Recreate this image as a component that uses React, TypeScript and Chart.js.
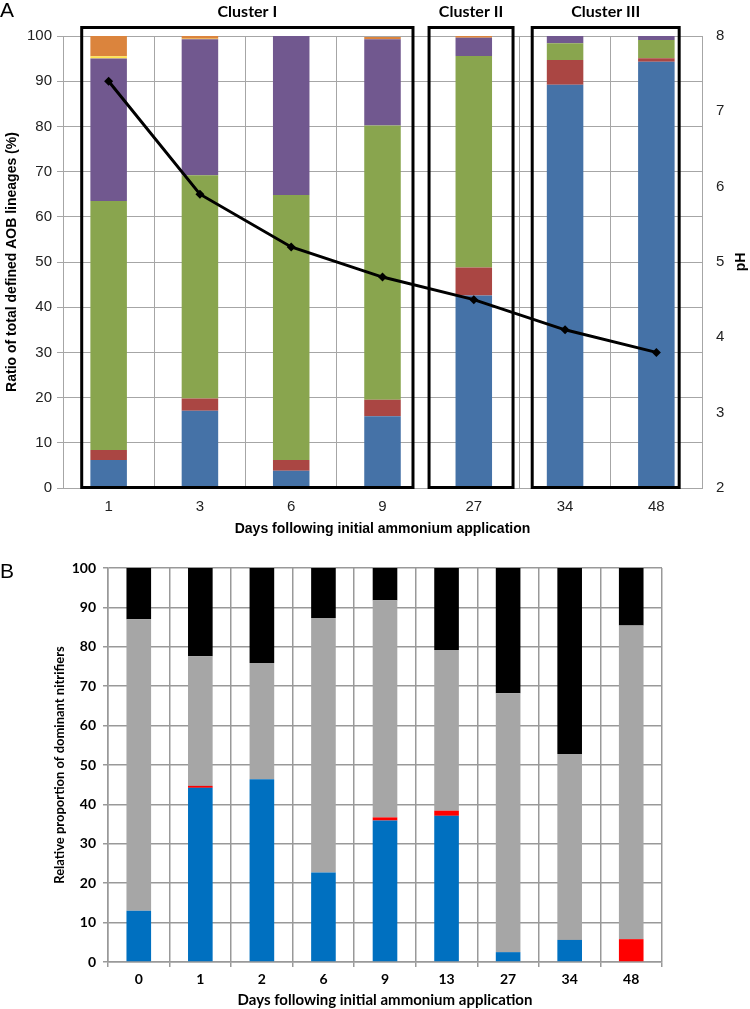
import React, { useEffect, useRef } from 'react';
import { Chart, registerables } from 'chart.js';

Chart.register(...registerables);

// ---------- Panel A data ----------
const daysA = ['1', '3', '6', '9', '27', '34', '48'];
const blueA = [6.2, 17.1, 3.8, 15.9, 42.6, 89.2, 94.3];
const redA = [2.2, 2.7, 2.4, 3.6, 6.2, 5.5, 0.8];
const greenA = [55.1, 49.4, 58.6, 60.7, 46.8, 3.7, 4.0];
const purpleA = [31.5, 30.1, 35.2, 19.1, 4.0, 1.6, 0.9];
const yellowA = [0.5, 0.1, 0, 0, 0, 0, 0];
const orangeA = [4.5, 0.6, 0, 0.5, 0.4, 0, 0];
const pHValues = [7.4, 5.9, 5.2, 4.8, 4.5, 4.1, 3.8];
const clusterNames = ['Cluster I', 'Cluster II', 'Cluster III'];
const clusterFrom = [0, 4, 5];
const clusterTo = [3, 4, 6];

// ---------- Panel B data ----------
const daysB = ['0', '1', '2', '6', '9', '13', '27', '34', '48'];
const blueB = [13.0, 44.2, 46.4, 22.7, 35.9, 37.1, 2.5, 5.6, 0];
const redB = [0, 0.5, 0, 0, 0.8, 1.3, 0, 0, 5.8];
const grayB = [74.0, 32.9, 29.5, 64.6, 55.1, 40.8, 65.7, 47.2, 79.6];
const blackB = [13.0, 22.4, 24.1, 12.7, 8.2, 20.8, 31.8, 47.2, 14.6];

// layout constants for cluster boxes (fractions of a category step)
const clusterPadL = [-0.295, -0.49, -0.36];
const clusterPadR = [0.334, 0.43, 0.25];

const ARIAL = '"Liberation Sans", Arial, sans-serif';
const LATO = 'Lato, "Open Sans", sans-serif';

const topDeco = {
  id: 'topDeco',
  afterDatasetsDraw(chart: any) {
    const ctx = chart.ctx;
    const x = chart.scales.x;
    const step = x.getPixelForValue(1) - x.getPixelForValue(0);
    const { top, bottom } = chart.chartArea;
    ctx.save();
    ctx.strokeStyle = '#000';
    ctx.lineWidth = 3;
    ctx.fillStyle = '#000';
    ctx.textAlign = 'center';
    ctx.textBaseline = 'middle';
    ctx.font = `bold 16px ${LATO}`;
    clusterNames.forEach((name, i) => {
      const l = x.getPixelForValue(clusterFrom[i]) + clusterPadL[i] * step;
      const r = x.getPixelForValue(clusterTo[i]) + clusterPadR[i] * step;
      ctx.strokeRect(l, top - 8.5, r - l, bottom - top + 8);
      ctx.fillText(name, (l + r) / 2, 12);
    });
    // panel letter
    ctx.textAlign = 'left';
    ctx.font = `21px ${ARIAL}`;
    ctx.fillText('A', 0, 11);
    // pH title (reads bottom to top)
    ctx.translate(741, (top + bottom) / 2);
    ctx.rotate(-Math.PI / 2);
    ctx.textAlign = 'center';
    ctx.font = `bold 14px ${ARIAL}`;
    ctx.fillText('pH', 0, 0);
    ctx.restore();
  },
};

const bottomDeco = {
  id: 'bottomDeco',
  afterDraw(chart: any) {
    const ctx = chart.ctx;
    ctx.save();
    ctx.fillStyle = '#000';
    ctx.textBaseline = 'middle';
    ctx.textAlign = 'left';
    ctx.font = `21px ${ARIAL}`;
    ctx.fillText('B', 0, 27);
    ctx.restore();
  },
};

function TopChart() {
  const ref = useRef<HTMLCanvasElement>(null);
  useEffect(() => {
    if (!ref.current) return;
    const barDs = (label: string, data: number[], color: string) => ({
      type: 'bar' as const,
      label,
      data,
      backgroundColor: color,
      borderWidth: 0,
      yAxisID: 'y',
      order: 2,
      barPercentage: 0.4,
      categoryPercentage: 1,
    });
    const chart = new Chart(ref.current, {
      type: 'bar',
      data: {
        labels: daysA,
        datasets: [
          barDs('blue', blueA, '#4572A7'),
          barDs('red', redA, '#AA4643'),
          barDs('green', greenA, '#89A54E'),
          barDs('purple', purpleA, '#71588F'),
          barDs('yellow', yellowA, '#FFE34D'),
          barDs('orange', orangeA, '#DB843D'),
          {
            type: 'line' as const,
            label: 'pH',
            data: pHValues,
            yAxisID: 'y1',
            borderColor: '#000',
            backgroundColor: '#000',
            borderWidth: 3,
            pointStyle: 'rectRot',
            pointRadius: 4.5,
            pointBorderWidth: 0,
            tension: 0,
            order: 0,
          } as any,
        ],
      },
      options: {
        responsive: false,
        animation: false,
        layout: { padding: { top: 36, left: 0, right: 0, bottom: 0 } },
        plugins: { legend: { display: false }, tooltip: { enabled: false } },
        scales: {
          x: {
            stacked: true,
            afterFit: (s: any) => { s.height = 57; },
            grid: { color: '#A6A6A6', lineWidth: 1, drawTicks: false, offset: true },
            border: { color: '#A6A6A6' },
            ticks: { color: '#222', font: { family: ARIAL, size: 15 }, padding: 10 },
            title: {
              display: true,
              text: 'Days following initial ammonium application',
              color: '#000',
              font: { family: ARIAL, size: 14, weight: 'bold' },
              padding: { top: 0, bottom: 7.5 },
            },
          },
          y: {
            stacked: true,
            min: 0,
            max: 100,
            position: 'left',
            afterFit: (s: any) => { s.width = 63; },
            grid: { color: '#A6A6A6', lineWidth: 1, tickLength: 6 },
            border: { color: '#A6A6A6' },
            ticks: { stepSize: 10, color: '#222', font: { family: ARIAL, size: 15 }, padding: 5 },
            title: {
              display: true,
              text: 'Ratio of total defined AOB lineages (%)',
              color: '#000',
              font: { family: ARIAL, size: 14, weight: 'bold' },
              padding: { top: 4, bottom: 0 },
            },
          },
          y1: {
            min: 2,
            max: 8,
            position: 'right',
            afterFit: (s: any) => { s.width = 48; },
            grid: { display: false, drawTicks: false, drawOnChartArea: false },
            border: { display: false },
            ticks: { stepSize: 1, color: '#222', font: { family: ARIAL, size: 15 }, padding: 14 },
          },
        },
      } as any,
      plugins: [topDeco],
    });
    return () => chart.destroy();
  }, []);
  return <canvas ref={ref} width={750} height={545} style={{ display: 'block' }} />;
}

function BottomChart() {
  const ref = useRef<HTMLCanvasElement>(null);
  useEffect(() => {
    if (!ref.current) return;
    const barDs = (label: string, data: number[], color: string) => ({
      label,
      data,
      backgroundColor: color,
      borderWidth: 0,
      barPercentage: 0.4,
      categoryPercentage: 1,
    });
    const chart = new Chart(ref.current, {
      type: 'bar',
      data: {
        labels: daysB,
        datasets: [
          barDs('blue', blueB, '#0070C0'),
          barDs('red', redB, '#FF0000'),
          barDs('gray', grayB, '#A6A6A6'),
          barDs('black', blackB, '#000000'),
        ],
      },
      options: {
        responsive: false,
        animation: false,
        layout: { padding: { top: 23, left: 0, right: 88, bottom: 0 } },
        plugins: { legend: { display: false }, tooltip: { enabled: false } },
        scales: {
          x: {
            stacked: true,
            afterFit: (s: any) => { s.height = 47; },
            grid: { color: '#999', lineWidth: 1.5, tickLength: 5, offset: true },
            border: { color: '#999', width: 1.5 },
            ticks: { color: '#000', font: { family: LATO, size: 14, weight: 'bold' }, padding: 4 },
            title: {
              display: true,
              text: 'Days following initial ammonium application',
              color: '#000',
              font: { family: LATO, size: 15, weight: 'bold' },
              padding: { top: 0, bottom: 0 },
            },
          },
          y: {
            stacked: true,
            min: 0,
            max: 100,
            afterFit: (s: any) => { s.width = 108; },
            grid: { color: '#999', lineWidth: 1.5, tickLength: 5 },
            border: { color: '#999', width: 1.5 },
            ticks: { stepSize: 10, color: '#000', font: { family: LATO, size: 14, weight: 'bold' }, padding: 7 },
            title: {
              display: true,
              text: 'Relative proportion of dominant nitrifiers',
              color: '#000',
              font: { family: LATO, size: 13, weight: 'bold' },
              padding: { top: 52, bottom: 0 },
            },
          },
        },
      } as any,
      plugins: [bottomDeco],
    });
    return () => chart.destroy();
  }, []);
  return <canvas ref={ref} width={750} height={464} style={{ display: 'block' }} />;
}

export default function App() {
  useEffect(() => {
    document.body.style.margin = '0';
  }, []);
  return (
    <div style={{ width: 750, height: 1009, background: '#fff' }}>
      <TopChart />
      <BottomChart />
    </div>
  );
}
